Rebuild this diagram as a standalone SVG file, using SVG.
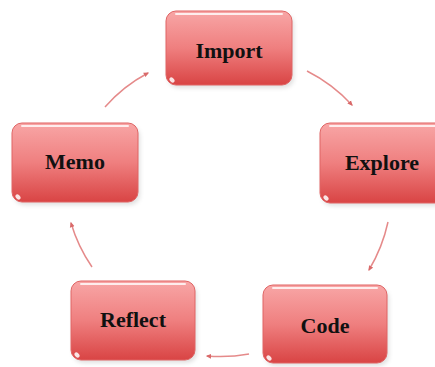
<svg xmlns="http://www.w3.org/2000/svg" width="435" height="367" viewBox="0 0 435 367">
<style>
.box{fill:url(#g);stroke:#e06565;stroke-width:1}
.hl{fill:none;stroke:#ffffff;stroke-width:2;stroke-opacity:0.8;stroke-linecap:round}
.dot{fill:#ffffff;fill-opacity:0.85}
.shadow{fill:#000;fill-opacity:0.12;filter:url(#blur)}
.lbl{font-family:"Liberation Serif","Times New Roman",serif;font-weight:bold;font-size:22px;fill:#111;text-anchor:middle}
.conn{fill:none;stroke:#e58a8a;stroke-width:1.5;marker-end:url(#ah)}
</style>
<defs>
<linearGradient id="g" x1="0" y1="0" x2="0" y2="1">
<stop offset="0" stop-color="#f8a6a6"/>
<stop offset="0.5" stop-color="#ef7f7f"/>
<stop offset="1" stop-color="#d94444"/>
</linearGradient>
<filter id="blur" x="-10%" y="-10%" width="120%" height="130%"><feGaussianBlur stdDeviation="2"/></filter>
<marker id="ah" viewBox="0 0 10 10" refX="7" refY="5" markerWidth="6" markerHeight="6" orient="auto" markerUnits="userSpaceOnUse">
<path d="M0,1 L9,5 L0,9 Z" fill="#d96a6a"/>
</marker>
</defs>
<rect width="435" height="367" fill="#ffffff"/>
<g id="connectors">
<path class="conn" d="M307,71 A158,158 0 0,1 352,105"/>
<path class="conn" d="M388,222 A160,160 0 0,1 369,270"/>
<path class="conn" d="M249,354 A160,160 0 0,1 207,356"/>
<path class="conn" d="M92,267 A155,155 0 0,1 71,223"/>
<path class="conn" d="M105,107 A150,150 0 0,1 148,73"/>
</g>
<g id="import">
<rect class="shadow" x="168" y="14" width="126" height="74" rx="10"/>
<rect class="box" x="166" y="11" width="126" height="74" rx="10"/>
<path class="hl" d="M176,14 H282"/>
<ellipse class="dot" cx="172" cy="80" rx="3" ry="2" transform="rotate(45 172 80)"/>
<text class="lbl" x="229" y="58">Import</text>
</g>
<g id="explore">
<rect class="shadow" x="322" y="126" width="126" height="80" rx="10"/>
<rect class="box" x="320" y="123" width="126" height="80" rx="10"/>
<path class="hl" d="M330,126 H440"/>
<ellipse class="dot" cx="326" cy="198" rx="3" ry="2" transform="rotate(45 326 198)"/>
<text class="lbl" x="382" y="170">Explore</text>
</g>
<g id="code">
<rect class="shadow" x="265" y="288" width="124" height="78" rx="10"/>
<rect class="box" x="263" y="285" width="124" height="78" rx="10"/>
<path class="hl" d="M273,288 H377"/>
<ellipse class="dot" cx="269" cy="358" rx="3" ry="2" transform="rotate(45 269 358)"/>
<text class="lbl" x="325" y="333">Code</text>
</g>
<g id="reflect">
<rect class="shadow" x="73" y="284" width="124" height="79" rx="10"/>
<rect class="box" x="71" y="281" width="124" height="79" rx="10"/>
<path class="hl" d="M81,284 H185"/>
<ellipse class="dot" cx="77" cy="355" rx="3" ry="2" transform="rotate(45 77 355)"/>
<text class="lbl" x="133" y="327">Reflect</text>
</g>
<g id="memo">
<rect class="shadow" x="14" y="126" width="126" height="79" rx="10"/>
<rect class="box" x="12" y="123" width="126" height="79" rx="10"/>
<path class="hl" d="M22,126 H128"/>
<ellipse class="dot" cx="18" cy="197" rx="3" ry="2" transform="rotate(45 18 197)"/>
<text class="lbl" x="75" y="169">Memo</text>
</g>
</svg>
